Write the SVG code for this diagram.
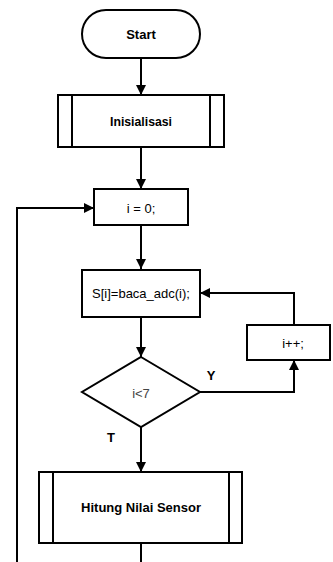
<svg xmlns="http://www.w3.org/2000/svg" width="333" height="562" viewBox="0 0 333 562">
<defs>
<marker id="ah" viewBox="0 0 10 10" refX="10" refY="5" markerWidth="5" markerHeight="5" orient="auto" markerUnits="strokeWidth">
<path d="M0,0 L10,5 L0,10 z" fill="#000"/>
</marker>
<style>
.s{fill:#fff;stroke:#000;stroke-width:2}
.l{fill:none;stroke:#000;stroke-width:2}
.c{fill:none;stroke:#000;stroke-width:2;marker-end:url(#ah)}
.t{font-family:"Liberation Sans",Arial,sans-serif;font-size:13px;text-anchor:middle;dominant-baseline:central;fill:#000}
.b{font-weight:bold}
</style>
</defs>
<rect width="333" height="562" fill="#fff"/>
<g id="connectors">
<line class="c" x1="141" y1="58" x2="141" y2="95"/>
<line class="c" x1="141" y1="147" x2="141" y2="189"/>
<polyline class="c" points="17,562 17,208 94,208"/>
<line class="c" x1="141" y1="225" x2="141" y2="269"/>
<line class="c" x1="141" y1="317" x2="141" y2="357"/>
<polyline class="c" points="294,325 294,293 200,293"/>
<polyline class="c" points="200,392 294,392 294,360"/>
<line class="c" x1="141" y1="427" x2="141" y2="472"/>
<line class="l" x1="141" y1="543" x2="141" y2="562"/>
<text class="t b" x="211" y="375">Y</text>
<text class="t b" x="111" y="437">T</text>
</g>
<g id="start">
<rect class="s" x="82" y="10" width="118" height="48" rx="24"/>
<text class="t b" x="141" y="34">Start</text>
</g>
<g id="inisialisasi">
<rect class="s" x="58" y="95" width="166" height="52"/>
<line class="l" x1="72" y1="95" x2="72" y2="147"/>
<line class="l" x1="210" y1="95" x2="210" y2="147"/>
<text class="t b" x="141" y="121" textLength="62" lengthAdjust="spacingAndGlyphs">Inisialisasi</text>
</g>
<g id="init-i">
<rect class="s" x="94" y="189" width="94" height="36"/>
<text class="t" x="141" y="208">i = 0;</text>
</g>
<g id="baca">
<rect class="s" x="82" y="270" width="118" height="47"/>
<text class="t" x="141" y="293">S[i]=baca_adc(i);</text>
</g>
<g id="inc">
<rect class="s" x="247" y="325" width="83" height="35"/>
<text class="t" x="293" y="343">i++;</text>
</g>
<g id="cond">
<polygon class="s" points="141,357 200,392 141,427 82,392"/>
<text class="t" x="141" y="393" style="fill:#444">i&lt;7</text>
</g>
<g id="hitung">
<rect class="s" x="39" y="472" width="203" height="71"/>
<line class="l" x1="53" y1="472" x2="53" y2="543"/>
<line class="l" x1="229" y1="472" x2="229" y2="543"/>
<text class="t b" x="141" y="507">Hitung Nilai Sensor</text>
</g>
</svg>
